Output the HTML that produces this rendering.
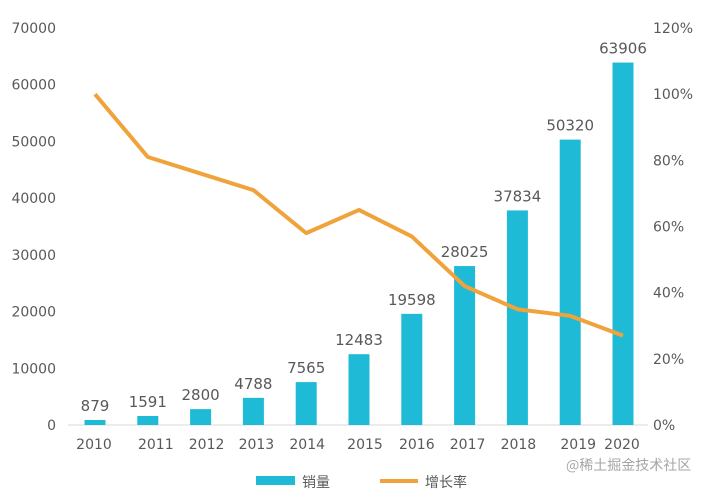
<!DOCTYPE html>
<html><head><meta charset="utf-8"><style>
body{margin:0;background:#fff;}
svg{display:block;font-family:"DejaVu Sans","Noto Sans CJK SC",sans-serif;}
</style></head><body>
<svg id="c" width="717" height="489">
<line x1="68" y1="425" x2="648" y2="425" stroke="#d9d9d9" stroke-width="1"/>
<g>
<rect x="256" y="476" width="39" height="9" fill="#1fbad6"/>
<text x="302" y="487" font-size="14" fill="#595959" font-family="Noto Sans CJK SC">销量</text>
<rect x="380" y="479" width="38" height="4" fill="#f0a33a"/>
<text x="425" y="487" font-size="14" fill="#595959" font-family="Noto Sans CJK SC">增长率</text>
</g>
<text x="566" y="470" font-size="14" fill="#a6a6a6" font-family="Noto Sans CJK SC">@稀土掘金技术社区</text>
</svg>
<script>
const years=['2010','2011','2012','2013','2014','2015','2016','2017','2018','2019','2020'];
const sales=[879,1591,2800,4788,7565,12483,19598,28025,37834,50320,63906];
const growth=[100,81,76,71,58,65,57,42,35,33,27];
const leftTicks=[0,10000,20000,30000,40000,50000,60000,70000];
const rightTicks=[0,20,40,60,80,100,120];
const labelShift=[-1,8,6,3,1,6,5,3,1,8,-1];
const svg=document.getElementById('c');
const NS='http://www.w3.org/2000/svg';
const y0=425,y1=28;
const yL=v=>y0-(v/70000)*(y0-y1);
const yR=v=>y0-(v/120)*(y0-y1);
const xC=i=>95+i*52.8;
function mk(t,a,txt){const e=document.createElementNS(NS,t);for(const k in a)e.setAttribute(k,a[k]);if(txt!==undefined)e.textContent=txt;svg.appendChild(e);return e;}
leftTicks.forEach(v=>{const e=mk('text',{x:56,y:yL(v)+5,'font-size':14,fill:'#595959','text-anchor':'end'},String(v));

});
rightTicks.forEach(v=>{const e=mk('text',{x:653,y:yR(v)+5,'font-size':14,fill:'#595959'},v+'%');

});
years.forEach((yr,i)=>{const e=mk('text',{x:xC(i)+labelShift[i],y:449,'font-size':14,fill:'#595959','text-anchor':'middle'},yr);

});
sales.forEach((v,i)=>{const b=mk('rect',{x:xC(i)-10.5,y:yL(v),width:21,height:y0-yL(v),fill:'#1fbad6'});


const t=mk('text',{x:xC(i),y:yL(v)-9,'font-size':15,fill:'#595959','text-anchor':'middle'},String(v));

});
const pts=growth.map((g,i)=>xC(i)+','+yR(g)).join(' ');
const l=mk('polyline',{points:pts,fill:'none',stroke:'#f0a33a','stroke-width':4,'stroke-linejoin':'round'});


</script>
</body></html>
